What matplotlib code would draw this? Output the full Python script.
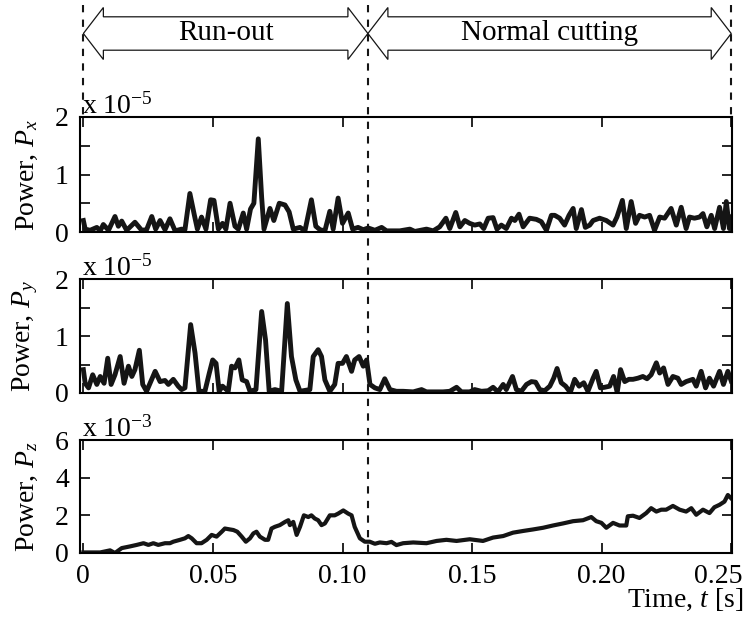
import matplotlib
matplotlib.use('Agg')
import matplotlib.pyplot as plt
import matplotlib.transforms as mtransforms
from matplotlib.patches import Polygon
from matplotlib.lines import Line2D
import numpy as np

plt.rcParams['font.family'] = ['Liberation Serif', 'DejaVu Serif']
plt.rcParams['mathtext.fontset'] = 'custom'
plt.rcParams['mathtext.rm'] = 'Liberation Serif'
plt.rcParams['mathtext.it'] = 'Liberation Serif:italic'

# time in ms, power in the units of each axis multiplier
tx = [0, 0.7, 2.6, 5.2, 6.5, 7.7, 9.7, 12.2, 13.5, 14.8,
      16.7, 19.9, 22.5, 24.4, 26.4, 27.9, 29.6, 31.5, 33.4, 35.4,
      37.9, 39.2, 41.1, 42.8, 44.0, 45.6, 47.3, 49.1, 50.4, 52.1,
      53.7, 55.0, 56.6, 58.5, 59.8, 61.7, 63.0, 64.5, 65.8, 67.5,
      68.8, 69.7, 72.0, 73.5, 75.6, 77.8, 79.4, 81.0, 83.6, 85.5,
      88.0, 89.7, 91.3, 93.2, 95.1, 96.4, 98.3, 100.0, 102.2, 103.9,
      106.0, 108.0, 109.9, 112.5, 115.1, 117.0, 122.1, 126.0, 127.9, 132.4,
      135.0, 137.5, 139.9, 141.4, 143.7, 145.3, 147.2, 149.1, 151.0, 153.0,
      154.5, 156.2, 158.1, 159.6, 161.3, 163.2, 165.2, 166.5, 168.1, 169.7,
      172.2, 174.8, 176.7, 178.7, 180.6, 181.9, 183.8, 185.7, 187.4, 189.0,
      190.2, 192.2, 193.7, 195.4, 196.7, 199.2, 201.8, 204.4, 205.9, 208.0,
      209.5, 211.4, 213.1, 214.6, 216.6, 218.5, 220.4, 222.4, 224.3, 226.8,
      228.8, 230.7, 232.6, 233.9, 235.8, 237.8, 239.1, 240.6, 242.3, 243.6,
      245.5, 247.0, 248.1, 249.3, 250.4]
px = [0.2, 0.05, 0.03, 0.08, 0.02, 0.13, 0.03, 0.27, 0.1, 0.19,
      0.03, 0.17, 0.03, 0.04, 0.27, 0.05, 0.2, 0.04, 0.23, 0.02,
      0.05, 0.04, 0.67, 0.3, 0.05, 0.26, 0.05, 0.56, 0.55, 0.05,
      0.15, 0.05, 0.5, 0.1, 0.05, 0.33, 0.05, 0.4, 0.5, 1.62,
      0.6, 0.05, 0.41, 0.2, 0.5, 0.47, 0.35, 0.05, 0.08, 0.02,
      0.56, 0.1, 0.04, 0.02, 0.36, 0.05, 0.59, 0.15, 0.33, 0.05,
      0.08, 0.04, 0.07, 0.03, 0.08, 0.02, 0.02, 0.05, 0.01, 0.05,
      0.02, 0.09, 0.24, 0.06, 0.34, 0.09, 0.2, 0.15, 0.12, 0.14,
      0.06, 0.24, 0.25, 0.05, 0.12, 0.06, 0.24, 0.2, 0.31, 0.09,
      0.24, 0.22, 0.18, 0.03, 0.29, 0.29, 0.24, 0.12, 0.29, 0.41,
      0.06, 0.39, 0.08, 0.12, 0.2, 0.24, 0.2, 0.12, 0.26, 0.55,
      0.06, 0.53, 0.15, 0.29, 0.26, 0.29, 0.03, 0.26, 0.24, 0.41,
      0.12, 0.43, 0.06, 0.26, 0.24, 0.26, 0.32, 0.09, 0.29, 0.06,
      0.43, 0.06, 0.53, 0.06, 0.26]

ty = [0, 0.7, 2.0, 3.6, 5.2, 6.5, 8.0, 9.4, 10.7, 12.2,
      14.2, 15.7, 17.4, 18.7, 19.9, 21.6, 22.9, 24.4, 27.7, 29.6,
      31.5, 32.8, 34.7, 36.6, 37.9, 39.2, 41.4, 43.1, 44.6, 46.9,
      48.6, 49.9, 51.2, 52.4, 53.7, 55.9, 57.2, 58.5, 60.0, 61.3,
      63.0, 64.3, 66.6, 68.8, 70.3, 71.7, 73.9, 76.5, 78.7, 80.3,
      82.0, 83.6, 87.4, 88.7, 90.6, 91.9, 93.2, 95.1, 97.0, 98.3,
      100.0, 101.5, 103.5, 104.7, 106.4, 108.0, 109.3, 110.6, 112.5, 114.4,
      116.3, 118.3, 120.8, 123.4, 127.3, 130.5, 132.4, 136.3, 138.8, 141.4,
      144.0, 145.9, 149.1, 151.0, 153.6, 156.2, 158.1, 160.0, 162.0, 163.2,
      165.6, 167.1, 169.0, 171.0, 172.9, 174.5, 176.1, 178.0, 180.0, 181.5,
      182.8, 184.4, 186.1, 187.9, 189.6, 191.3, 193.1, 194.7, 196.7, 197.9,
      199.5, 201.1, 203.1, 204.6, 206.0, 207.3, 208.9, 210.5, 212.1, 214.0,
      215.9, 217.5, 219.1, 221.1, 222.4, 223.9, 225.6, 227.5, 229.4, 230.7,
      232.6, 235.2, 236.5, 238.4, 240.1, 241.6, 243.2, 245.5, 247.0, 248.7,
      250.0]
py = [0.41, 0.17, 0.09, 0.32, 0.15, 0.29, 0.17, 0.61, 0.15, 0.32,
      0.64, 0.17, 0.47, 0.29, 0.41, 0.75, 0.15, 0.03, 0.38, 0.2,
      0.22, 0.15, 0.24, 0.12, 0.06, 0.09, 1.2, 0.7, 0.03, 0.03,
      0.35, 0.58, 0.52, 0.03, 0.12, 0.03, 0.47, 0.44, 0.58, 0.23,
      0.2, 0.03, 0.06, 1.43, 0.93, 0.03, 0.06, 0.03, 1.57, 0.64,
      0.23, 0.03, 0.06, 0.64, 0.76, 0.64, 0.23, 0.03, 0.15, 0.52,
      0.52, 0.64, 0.38, 0.58, 0.64, 0.47, 0.58, 0.15, 0.09, 0.06,
      0.25, 0.06, 0.03, 0.03, 0.02, 0.06, 0.02, 0.02, 0.02, 0.03,
      0.1, 0.02, 0.02, 0.06, 0.03, 0.04, 0.1, 0.02, 0.15, 0.06,
      0.29, 0.06, 0.03, 0.15, 0.2, 0.19, 0.06, 0.04, 0.12, 0.26,
      0.43, 0.18, 0.12, 0.01, 0.24, 0.12, 0.18, 0.03, 0.26, 0.38,
      0.09, 0.1, 0.12, 0.29, 0.01, 0.41, 0.2, 0.24, 0.24, 0.26,
      0.29, 0.25, 0.32, 0.53, 0.35, 0.44, 0.15, 0.29, 0.26, 0.15,
      0.2, 0.24, 0.12, 0.38, 0.09, 0.26, 0.12, 0.38, 0.15, 0.38,
      0.21]

tz = [0, 6.5, 10.3, 12.2, 14.8, 18.0, 20.6, 23.2, 25.1, 27.0,
      28.9, 31.5, 33.4, 34.7, 37.3, 39.2, 40.5, 41.8, 43.7, 45.6,
      47.6, 49.5, 51.4, 53.4, 54.6, 56.6, 57.9, 59.4, 61.1, 62.7,
      64.3, 65.6, 66.8, 68.1, 70.1, 71.3, 72.6, 73.9, 75.8, 77.8,
      79.1, 79.7, 81.0, 82.3, 83.6, 85.1, 86.8, 88.0, 89.3, 90.6,
      91.9, 93.2, 95.1, 97.0, 98.3, 100.3, 102.2, 103.5, 104.7, 106.7,
      108.6, 110.5, 112.5, 114.4, 117.0, 118.9, 120.8, 123.4, 127.3, 132.4,
      136.3, 140.1, 144.0, 149.1, 154.2, 158.1, 162.0, 165.8, 169.7, 173.5,
      177.4, 181.2, 185.1, 189.0, 192.8, 196.0, 197.9, 199.9, 201.8, 204.4,
      206.9, 209.5, 210.1, 212.1, 214.6, 217.2, 219.1, 221.1, 223.0, 224.9,
      227.5, 230.1, 232.6, 234.6, 236.5, 239.1, 241.6, 243.5, 245.5, 247.4,
      248.7, 250.0]
pz = [0.03, 0.03, 0.14, 0.0, 0.26, 0.35, 0.43, 0.52, 0.43, 0.52,
      0.43, 0.52, 0.52, 0.6, 0.7, 0.78, 0.9, 0.78, 0.52, 0.52,
      0.7, 0.96, 0.87, 1.13, 1.3, 1.25, 1.22, 1.13, 0.87, 0.6,
      0.78, 1.04, 1.13, 0.87, 0.7, 0.7, 1.3, 1.39, 1.48, 1.65,
      1.74, 1.48, 1.65, 0.96, 1.39, 2.0, 1.91, 2.0, 1.83, 1.74,
      1.48, 1.57, 2.0, 2.0, 2.09, 2.26, 2.09, 2.0, 1.39, 0.78,
      0.6, 0.6, 0.49, 0.56, 0.52, 0.59, 0.42, 0.52, 0.56, 0.52,
      0.64, 0.7, 0.64, 0.73, 0.64, 0.82, 0.9, 1.08, 1.17, 1.25,
      1.34, 1.46, 1.57, 1.69, 1.74, 1.91, 1.69, 1.6, 1.34, 1.6,
      1.46, 1.46, 1.95, 1.98, 1.86, 2.12, 2.38, 2.2, 2.3, 2.3,
      2.5, 2.3, 2.2, 2.38, 2.03, 2.3, 2.12, 2.43, 2.56, 2.73,
      3.08, 2.9]

phase_edges = [0, 109.8, 250.0]  # ms
phase_labels = ['Run-out', 'Normal cutting']
xticks = [0, 0.05, 0.10, 0.15, 0.20, 0.25]
xticklabels = ['0', '0.05', '0.10', '0.15', '0.20', '0.25']

panels = [
    (tx, px, [0, 0.5, 1, 1.5, 2], ['0', '', '1', '', '2'], 2, r'x 10$^{-5}$', r'Power, $P_x$', 3.5),
    (ty, py, [0, 0.5, 1, 1.5, 2], ['0', '', '1', '', '2'], 2, r'x 10$^{-5}$', r'Power, $P_y$', 3.5),
    (tz, pz, [0, 2, 4, 6], ['0', '2', '4', '6'], 6, r'x 10$^{-3}$', r'Power, $P_z$', 3.0),
]

W, H = 746, 635
fig = plt.figure(figsize=(W / 100, H / 100), dpi=100)

# axes boxes in pixels (left, top, right, bottom)
boxes = [(80, 117, 732, 232), (80, 279, 732, 393), (80, 440, 732, 553)]
axes = []
for (t, p, yt, ytl, ymax, mult, ylab, lw), (l, tp, r, b) in zip(panels, boxes):
    ax = fig.add_axes([l / W, 1 - b / H, (r - l) / W, (b - tp) / H])
    ax.plot(np.array(t) / 1000, p, color='#151515', lw=lw, solid_joinstyle='round')
    ax.set_xlim(-0.0013, 0.2503)
    ax.set_ylim(0, ymax)
    ax.set_xticks(xticks)
    ax.set_yticks(yt)
    ax.set_yticklabels(ytl)
    ax.tick_params(direction='in', top=True, right=True, length=7, width=1.2,
                   labelsize=20, pad=8)
    for s in ax.spines.values():
        s.set_linewidth(1.5)
    ax.text(0.003, 1.03, mult, transform=ax.transAxes, ha='left', va='baseline', fontsize=20)
    ax.set_ylabel(ylab, fontsize=20)
    ax.yaxis.set_label_coords(-0.062, 0.5)
    axes.append(ax)

for ax in axes[:2]:
    ax.set_xticklabels([])
axes[2].set_xticklabels(xticklabels)
last = axes[2].get_xticklabels()[-1]
last.set_transform(last.get_transform() + mtransforms.ScaledTranslation(-0.13, 0, fig.dpi_scale_trans))

fig.text(743 / W, 1 - 607 / H, r'Time, $t$ [s]', ha='right', va='baseline', fontsize=20)

# phase boundaries and arrows, in display pixels
ident = mtransforms.IdentityTransform()
xpix = [axes[2].transData.transform((e / 1000, 0))[0] for e in phase_edges]
top_y = H - 5
for i, xp in enumerate(xpix):
    y_end = H - 553 if i == 1 else H - 117
    fig.add_artist(Line2D([xp, xp], [top_y, y_end], transform=ident, color='#151515',
                          lw=1.5, linestyle=(0, (3.5, 3.5))))

yc, hw, sw, hl = H - 33.5, 26, 16.7, 20
for x0, x1, lab in zip(xpix[:-1], xpix[1:], phase_labels):
    pts = [(x0, yc), (x0 + hl, yc + hw), (x0 + hl, yc + sw), (x1 - hl, yc + sw),
           (x1 - hl, yc + hw), (x1, yc), (x1 - hl, yc - hw), (x1 - hl, yc - sw),
           (x0 + hl, yc - sw), (x0 + hl, yc - hw)]
    fig.add_artist(Polygon(pts, closed=True, transform=ident, facecolor='white',
                           edgecolor='#151515', lw=0.9))
    fig.text((x0 + x1) / 2 / W, yc / H, lab, ha='center', va='center', fontsize=21)

fig.savefig('out.png', dpi=100)
